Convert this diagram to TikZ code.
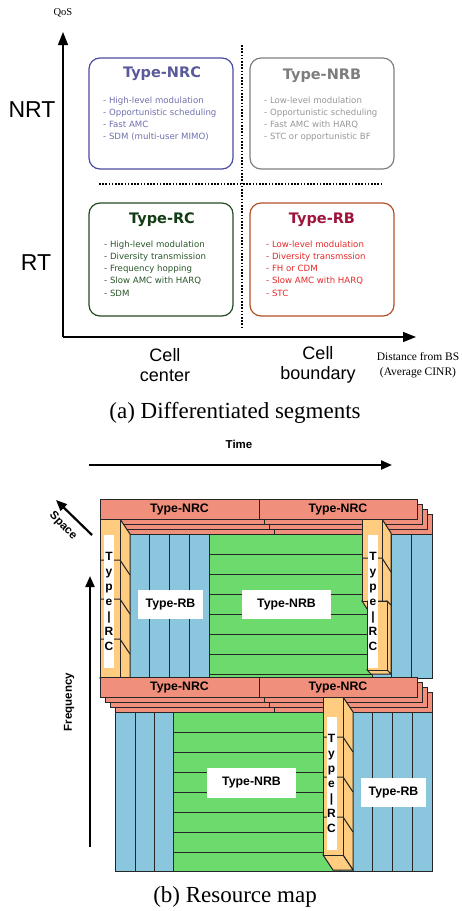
\documentclass[tikz,border=0pt]{standalone}
\usepackage{fontspec}
\setmainfont{Liberation Serif}
\setsansfont{Liberation Sans}
\newfontfamily\verdanafont{DejaVu Sans}
\usepackage{xcolor}
\usepackage{tikz}
\usetikzlibrary{arrows.meta}

\definecolor{nrcblue}{RGB}{75,75,160}
\definecolor{nrctitle}{RGB}{90,90,155}
\definecolor{nrctext}{RGB}{110,110,175}
\definecolor{nrbgray}{RGB}{128,128,128}
\definecolor{nrbtitle}{RGB}{125,125,125}
\definecolor{nrbtext}{RGB}{150,150,150}
\definecolor{rcgreen}{RGB}{35,75,35}
\definecolor{rctitle}{RGB}{20,60,20}
\definecolor{rctext}{RGB}{40,85,40}
\definecolor{rbborder}{RGB}{180,80,40}
\definecolor{rbtitle}{RGB}{160,20,60}
\definecolor{rbtext}{RGB}{230,40,40}
\definecolor{salmon}{RGB}{240,143,123}
\definecolor{rcorange}{RGB}{255,204,128}
\definecolor{cellblue}{RGB}{138,198,222}
\definecolor{cellgreen}{RGB}{109,218,109}

% 3D Type-RC column: left x, top y, bottom y, depth x, depth y, ticks
\newcommand{\rcbar}[6]{%
  \filldraw[rcface] (#1+20,#2) -- (#1+20+#4,#2+#5) -- (#1+20+#4,#3+#5) -- (#1+20,#3) -- cycle;
  \filldraw[rcface] (#1,#3) -- (#1+20,#3) -- (#1+20+#4,#3+#5) -- (#1+#4,#3+#5) -- cycle;
  \filldraw[rcface] (#1,#2) rectangle (#1+20,#3);
  \foreach \t in {#6} {\draw[cell] (#1,\t) -- (#1+20,\t) -- (#1+20+#4,\t+#5);}
}

\begin{document}
\begin{tikzpicture}[x=1pt, y=-1pt,
    segbox/.style={rounded corners=11pt, line width=1.2pt},
    segtitle/.style={font=\verdanafont\bfseries\fontsize{14.5}{16}\selectfont},
    seglist/.style={anchor=north west, align=left, inner sep=0pt, font=\verdanafont\fontsize{8.6}{12.2}\selectfont},
    axisline/.style={line width=1.3pt, -{Triangle[length=13pt,width=10pt]}},
    divider/.style={line width=1.6pt, dash pattern=on 1.6pt off 1.6pt},
    cell/.style={line width=1pt, draw=black!85},
    nrcbar/.style={cell, fill=salmon, minimum height=20pt, inner sep=0pt, font=\sffamily\bfseries\fontsize{12.3}{14}\selectfont},
    rcface/.style={cell, fill=rcorange},
    whitelbl/.style={fill=white, inner sep=0pt, font=\sffamily\bfseries\fontsize{12.3}{14}\selectfont},
    rclbl/.style={fill=white, inner sep=0pt, minimum width=10pt, minimum height=133pt, align=center, font=\sffamily\bfseries\fontsize{12}{15}\selectfont},
    dimarrow/.style={line width=2.2pt, -{Triangle[length=11pt,width=9pt]}},
    dimlbl/.style={font=\sffamily\bfseries\fontsize{11.5}{13}\selectfont},
  ]
  \useasboundingbox (0,0) rectangle (461,911);

  % (a) segments
  \coordinate (origin) at (63,337);
  \coordinate (qostip) at (63,32);
  \coordinate (disttip) at (416,337);
  \draw[axisline] (origin) -- (qostip);
  \draw[axisline] (origin) -- (disttip);
  \coordinate (vtop) at (242,45);
  \coordinate (vbot) at (242,327);
  \coordinate (hleft) at (99,184);
  \coordinate (hright) at (382,184);
  \draw[divider] (vtop) -- (vbot);
  \draw[divider] (hleft) -- (hright);

  \node[font=\fontsize{10.5}{12}\selectfont] (qos) at (63,13) {QoS};
  \node[font=\sffamily\fontsize{23}{26}\selectfont] (nrt) at (32,110) {NRT};
  \node[font=\sffamily\fontsize{23}{26}\selectfont] (rt) at (36,263) {RT};
  \node[align=center, font=\sffamily\fontsize{18}{20}\selectfont] (center) at (165,365) {Cell\\center};
  \node[align=center, font=\sffamily\fontsize{18}{20}\selectfont] (boundary) at (318,365) {Cell\\boundary};
  \node[align=center, font=\fontsize{11.5}{15}\selectfont] (dist) at (418,365) {Distance from BS\\(Average CINR)};

  \draw[segbox, draw=nrcblue] (89,58) rectangle (233,169);
  \draw[segbox, draw=nrbgray] (250,58) rectangle (394,169);
  \draw[segbox, draw=rcgreen] (89,203) rectangle (233,316);
  \draw[segbox, draw=rbborder] (250,203) rectangle (394,316);

  \node[segtitle, text=nrctitle] (nrctitle) at (162,74) {Type-NRC};
  \node[segtitle, text=nrbtitle] (nrbtitle) at (322,76) {Type-NRB};
  \node[segtitle, text=rctitle] (rctitle) at (162,220) {Type-RC};
  \node[segtitle, text=rbtitle] (rbtitle) at (322,220) {Type-RB};

  \node[seglist, text=nrctext] (nrclist) at (103,96.5) {- High-level modulation\\- Opportunistic scheduling\\- Fast AMC\\- SDM (multi-user MIMO)};
  \node[seglist, text=nrbtext] (nrblist) at (264,96.5) {- Low-level modulation\\- Opportunistic scheduling\\- Fast AMC with HARQ\\- STC or opportunistic BF};
  \node[seglist, text=rctext] (rclist) at (104,240.5) {- High-level modulation\\- Diversity transmission\\- Frequency hopping\\- Slow AMC with HARQ\\- SDM};
  \node[seglist, text=rbtext] (rblist) at (266,240.5) {- Low-level modulation\\- Diversity transmssion\\- FH or CDM\\- Slow AMC with HARQ\\- STC};

  \node[font=\fontsize{23}{26}\selectfont] (capa) at (235,413) {(a) Differentiated segments};

  % (b) resource map
  \coordinate (timestart) at (89,465);
  \coordinate (timeend) at (392,465);
  \draw[dimarrow] (timestart) -- (timeend);
  \node[dimlbl] (time) at (239,444) {Time};
  \coordinate (freqstart) at (90,847);
  \coordinate (freqend) at (90,576);
  \draw[dimarrow] (freqstart) -- (freqend);
  \node[dimlbl, rotate=90] (freq) at (69,702) {Frequency};
  \coordinate (spacestart) at (92,535);
  \coordinate (spaceend) at (56,500);
  \draw[dimarrow] (spacestart) -- (spaceend);
  \node[dimlbl, rotate=-46] (space) at (63,526) {Space};

  % upper band
  \filldraw[cell, fill=cellblue] (115,534) rectangle (432,678);
  \filldraw[cell, fill=cellgreen] (209,534) rectangle (372,678);
  \foreach \y in {554,574,...,674} \draw[cell] (209,\y) -- (372,\y);
  \foreach \x in {149,169,189,391,411.5} \draw[cell] (\x,534) -- (\x,678);
  \foreach \k in {3,2,1} {
    \filldraw[cell, fill=salmon] (100+5*\k,499+5*\k) rectangle (259+5*\k,519+5*\k);
    \filldraw[cell, fill=salmon] (259+5*\k,499+5*\k) rectangle (417+5*\k,519+5*\k);
  }
  \rcbar{100}{519}{678}{10}{15}{560,599,639}
  \rcbar{362}{519}{601}{9}{14}{558}
  \rcbar{367}{601}{670}{4}{4}{601}
  \node[nrcbar, minimum width=159pt] (nrcA) at (179.5,509) {Type-NRC};
  \node[nrcbar, minimum width=158pt] (nrcB) at (338,509) {Type-NRC};
  \node[whitelbl, minimum width=65pt, minimum height=29pt] (rbA) at (170.5,604.5) {Type-RB};
  \node[whitelbl, minimum width=89pt, minimum height=29pt] (nrbA) at (286.5,604.5) {Type-NRB};
  \node[rclbl] (rcA) at (109,601.5) {T\\y\\p\\e\\|\\R\\C};
  \node[rclbl] (rcB) at (373,601.5) {T\\y\\p\\e\\|\\R\\C};

  % lower band
  \filldraw[cell, fill=cellblue] (115,712) rectangle (432,871);
  \filldraw[cell, fill=cellgreen] (173,712) rectangle (340,871);
  \foreach \y in {732,752,...,852} \draw[cell] (173,\y) -- (340,\y);
  \foreach \x in {135,154,372,392,412} \draw[cell] (\x,712) -- (\x,871);
  \foreach \k in {3,2,1} {
    \filldraw[cell, fill=salmon] (100+5*\k,677.5+5*\k) rectangle (259+5*\k,697+5*\k);
    \filldraw[cell, fill=salmon] (259+5*\k,677.5+5*\k) rectangle (417+5*\k,697+5*\k);
  }
  \rcbar{323}{697}{855}{10}{15}{737,777,817}
  \node[nrcbar, minimum width=159pt, minimum height=19.5pt] (nrcC) at (179.5,687.25) {Type-NRC};
  \node[nrcbar, minimum width=158pt, minimum height=19.5pt] (nrcD) at (338,687.25) {Type-NRC};
  \node[whitelbl, minimum width=89pt, minimum height=30pt] (nrbB) at (251.5,783) {Type-NRB};
  \node[whitelbl, minimum width=65pt, minimum height=29pt] (rbB) at (393.5,792.5) {Type-RB};
  \node[rclbl] (rcC) at (331.5,783) {T\\y\\p\\e\\|\\R\\C};

  \node[font=\fontsize{23}{26}\selectfont] (capb) at (235,897) {(b) Resource map};
\end{tikzpicture}
\end{document}
